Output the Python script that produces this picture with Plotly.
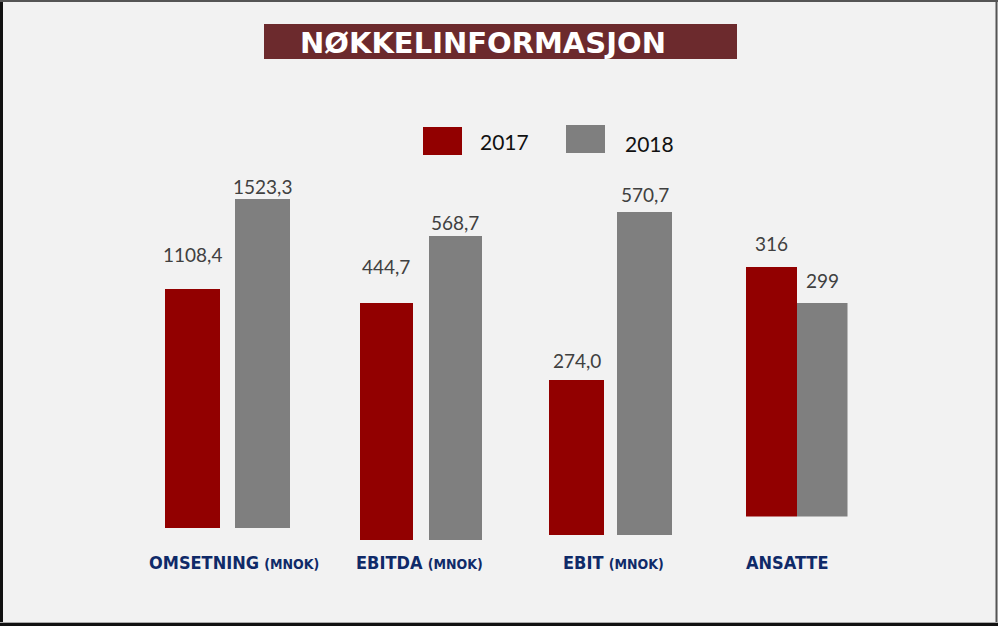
import plotly.graph_objects as go

# ---- data ----
years = ["2017", "2018"]
categories = ["OMSETNING", "EBITDA", "EBIT", "ANSATTE"]
units = ["(MNOK)", "(MNOK)", "(MNOK)", ""]
values_2017 = [1108.4, 444.7, 274.0, 316]
values_2018 = [1523.3, 568.7, 570.7, 299]
decimals = [1, 1, 1, 0]
title_text = "NØKKELINFORMASJON"

# ---- styling / layout ----
W, H = 998, 626
RED = "#920000"
GRAY = "#7F7F7F"
NAVY = "#0F2A68"
BG = "#F2F2F2"

# per-panel pixel layout: (x_left, x_right, y_top, y_bottom(baseline)), y-range, bar width
panels = [
    dict(x0=157.75, x1=296.75, yt=100, yb=528, yr=[0, 1981.7], bw=0.79),
    dict(x0=351.5, x1=489.5, yt=100, yb=540, yr=[0, 824], bw=0.78),
    dict(x0=543.25, x1=678.25, yt=100, yb=535, yr=[0, 768.6], bw=0.81),
    dict(x0=745.5, x1=847.5, yt=100, yb=516.5, yr=[200, 393.3], bw=1.0),
]
label_shift = [(34, 12), (36, 14), (19, 17), (23, 23)]
cat_label_x = [234, 419, 613, 787]
cat_label_y = 562


def fmt(v, d):
    return f"{v:.{d}f}".replace(".", ",")


fig = go.Figure()
annotations = []
shapes = []

for i, p in enumerate(panels):
    suffix = "" if i == 0 else str(i + 1)
    xa, ya = "x" + suffix, "y" + suffix
    vals = [values_2017[i], values_2018[i]]
    fig.add_trace(go.Bar(
        x=years, y=vals, xaxis=xa, yaxis=ya,
        marker=dict(color=[RED, GRAY], line=dict(width=0)),
        width=p["bw"], showlegend=False, hoverinfo="skip",
    ))
    axkey = "xaxis" + suffix
    aykey = "yaxis" + suffix
    fig.layout[axkey] = dict(domain=[p["x0"] / W, p["x1"] / W], range=[-0.5, 1.5],
                             type="category", visible=False, anchor=ya, fixedrange=True)
    fig.layout[aykey] = dict(domain=[1 - p["yb"] / H, 1 - p["yt"] / H], range=p["yr"],
                             visible=False, anchor=xa, fixedrange=True)
    for j in range(len(years)):
        annotations.append(dict(
            x=j, y=vals[j], xref=xa, yref=ya, text=fmt(vals[j], decimals[i]),
            showarrow=False, yshift=label_shift[i][j], yanchor="middle", xanchor="center",
            font=dict(family="Lato, Open Sans, sans-serif", size=19, color="#404040"),
        ))
    lab = f"<b>{categories[i]}</b>"
    if units[i]:
        lab += f" <span style='font-size:14px'><b>{units[i]}</b></span>"
    annotations.append(dict(
        x=cat_label_x[i] / W, y=1 - cat_label_y / H, xref="paper", yref="paper",
        text=lab, showarrow=False, xanchor="center", yanchor="middle",
        font=dict(family="DejaVu Sans Condensed, Liberation Sans Narrow, sans-serif",
                  size=18, color=NAVY),
    ))

# title box
shapes.append(dict(type="rect", xref="paper", yref="paper",
                   x0=264 / W, x1=737 / W, y0=1 - 59 / H, y1=1 - 24 / H,
                   fillcolor="#6C2A2D", line=dict(width=0), layer="below"))
annotations.append(dict(x=483 / W, y=1 - 43 / H, xref="paper", yref="paper",
                        text=f"<b>{title_text}</b>", showarrow=False,
                        xanchor="center", yanchor="middle",
                        font=dict(family="DejaVu Sans, Verdana, sans-serif", size=29, color="white")))

# legend
legend_items = [(years[0], RED, 423, 462, 127, 155, 478, 141),
                (years[1], GRAY, 566, 605, 125, 153, 623, 143)]
for name, col, lx0, lx1, ly0, ly1, tx, ty in legend_items:
    shapes.append(dict(type="rect", xref="paper", yref="paper",
                       x0=lx0 / W, x1=lx1 / W, y0=1 - ly1 / H, y1=1 - ly0 / H,
                       fillcolor=col, line=dict(width=0)))
    annotations.append(dict(x=tx / W, y=1 - ty / H, xref="paper", yref="paper",
                            text=name, showarrow=False, xanchor="left", yanchor="middle",
                            font=dict(family="Lato, Open Sans, sans-serif", size=21, color="#111111")))

# frame
shapes += [
    dict(type="line", xref="paper", yref="paper", x0=1.5 / W, x1=1.5 / W, y0=0, y1=1,
         line=dict(color="#111111", width=3)),
    dict(type="line", xref="paper", yref="paper", x0=0, x1=1, y0=1 - 1 / H, y1=1 - 1 / H,
         line=dict(color="#555555", width=2)),
    dict(type="line", xref="paper", yref="paper", x0=1 - 1.5 / W, x1=1 - 1.5 / W, y0=0, y1=1,
         line=dict(color="#555555", width=2)),
    dict(type="line", xref="paper", yref="paper", x0=0, x1=1, y0=1.5 / H, y1=1.5 / H,
         line=dict(color="#111111", width=3)),
    dict(type="line", xref="paper", yref="paper", x0=0, x1=1, y0=3.5 / H, y1=3.5 / H,
         line=dict(color="#AAAAAA", width=1)),
]

fig.update_layout(
    width=W, height=H, margin=dict(l=0, r=0, t=0, b=0),
    paper_bgcolor=BG, plot_bgcolor="rgba(0,0,0,0)",
    annotations=annotations, shapes=shapes, bargap=0, showlegend=False,
)

fig.write_html("out.html", config={"displayModeBar": False},
               post_script="document.body.style.margin='0';document.body.style.overflow='hidden';")
